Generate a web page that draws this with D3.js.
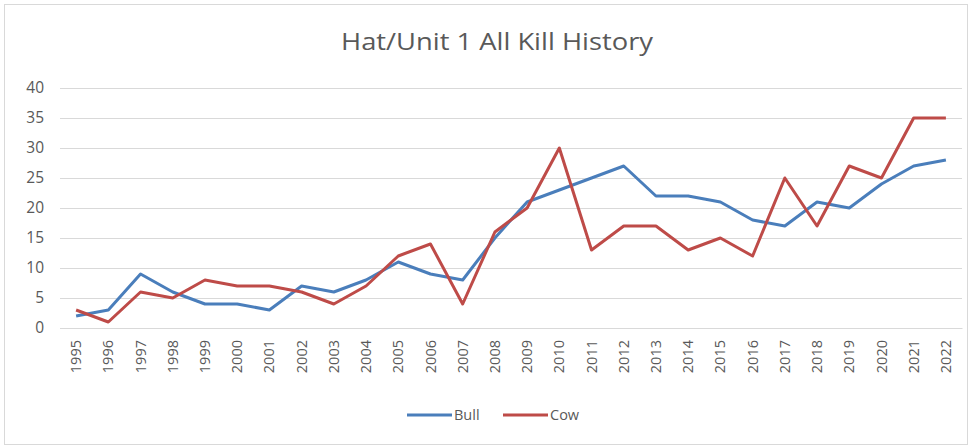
<!DOCTYPE html>
<html>
<head>
<meta charset="utf-8">
<script src="https://cdn.jsdelivr.net/npm/d3@7"></script>
<style>
  html, body { margin: 0; padding: 0; background: #fff; }
  svg { display: block; }
</style>
</head>
<body>
<svg id="chart" width="972" height="448"></svg>
<script>
// Yearly harvest counts, Hat/Unit 1
const years = ["1995","1996","1997","1998","1999","2000","2001","2002","2003","2004",
  "2005","2006","2007","2008","2009","2010","2011","2012","2013","2014",
  "2015","2016","2017","2018","2019","2020","2021","2022"];
const bull = [2,3,9,6,4,4,3,7,6,8,11,9,8,15,21,23,25,27,22,22,21,18,17,21,20,24,27,28];
const cow  = [3,1,6,5,8,7,7,6,4,7,12,14,4,16,20,30,13,17,17,13,15,12,25,17,27,25,35,35];
const yTicks = [0,5,10,15,20,25,30,35,40];

const seriesList = [
  { name: "Bull", values: bull, color: "#4a7ebb" },
  { name: "Cow",  values: cow,  color: "#be4b48" }
];

const svg = d3.select("#chart");
const W = 972, H = 448;
const font = "'Open Sans', 'Liberation Sans', sans-serif";

// outer frame
svg.append("rect")
  .attr("x", 4.5).attr("y", 4.5)
  .attr("width", W - 9).attr("height", H - 8)
  .attr("fill", "#fff").attr("stroke", "#d9d9d9").attr("stroke-width", 1);

const plot = { left: 60, right: 962, top: 88, bottom: 328 };

const x = d3.scaleBand().domain(years).range([plot.left, plot.right]);
const y = d3.scaleLinear().domain([0, 40]).range([plot.bottom, plot.top]);

// title
svg.append("text")
  .attr("x", 497).attr("y", 50)
  .attr("text-anchor", "middle")
  .attr("font-family", font).attr("font-size", 24)
  .attr("textLength", 312).attr("lengthAdjust", "spacingAndGlyphs")
  .attr("fill", "#595959")
  .text("Hat/Unit 1 All Kill History");

// horizontal gridlines + y labels
const yAxis = d3.axisLeft(y).tickValues(yTicks)
  .tickSize(-(plot.right - plot.left)).tickPadding(16);
const gy = svg.append("g")
  .attr("transform", `translate(${plot.left},0)`)
  .call(yAxis);
gy.select(".domain").remove();
gy.selectAll(".tick line").attr("stroke", "#d9d9d9").attr("stroke-width", 1.2);
gy.selectAll(".tick text")
  .attr("font-family", font).attr("font-size", 15.5).attr("fill", "#595959");

// x axis with rotated year labels
const xAxis = d3.axisBottom(x).tickSize(0).tickPadding(0);
const gx = svg.append("g")
  .attr("transform", `translate(0,${plot.bottom})`)
  .call(xAxis);
gx.select(".domain").attr("stroke", "#d9d9d9").attr("stroke-width", 1.2);
gx.selectAll(".tick text")
  .attr("font-family", font).attr("font-size", 14.5).attr("fill", "#595959")
  .attr("text-anchor", "end")
  .attr("dy", "0.35em")
  .attr("transform", "translate(0,12) rotate(-90)");

// series lines
const line = d3.line()
  .x((d, i) => x(years[i]) + x.bandwidth() / 2)
  .y(d => y(d));

svg.append("g").selectAll("path")
  .data(seriesList)
  .join("path")
  .attr("d", s => line(s.values))
  .attr("fill", "none")
  .attr("stroke", s => s.color)
  .attr("stroke-width", 3)
  .attr("stroke-linejoin", "round");

// legend
const legend = svg.append("g").attr("transform", "translate(407,415)");
const legendX = [0, 96];
seriesList.forEach((s, i) => {
  const g = legend.append("g").attr("transform", `translate(${legendX[i]},0)`);
  g.append("line")
    .attr("x1", 0).attr("x2", 45).attr("y1", 0).attr("y2", 0)
    .attr("stroke", s.color).attr("stroke-width", 3);
  g.append("text")
    .attr("x", 47).attr("y", 0).attr("dy", "0.35em")
    .attr("font-family", font).attr("font-size", 14.5).attr("fill", "#595959")
    .text(s.name);
});
</script>
</body>
</html>
